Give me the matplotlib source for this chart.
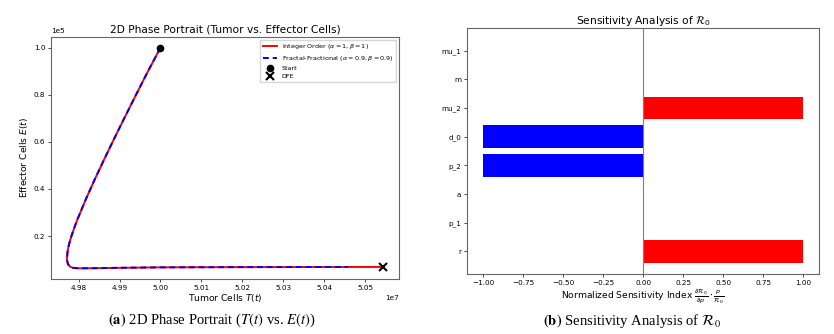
import matplotlib.pyplot as plt
import numpy as np

# phase portrait values (T in units of 1e7, E in units of 1e5)
int_T = [5.0000, 4.99694, 4.99341, 4.99096, 4.98855, 4.98619, 4.98389, 4.98170, 4.97966, 4.97875,
         4.97794, 4.97745, 4.97729, 4.97712, 4.9774, 4.9779, 4.9786, 4.9795, 4.9810, 4.9840,
         4.9900, 5.0000, 5.0200, 5.0400, 5.0545]
int_E = [1.000, 0.900, 0.779, 0.694, 0.609, 0.524, 0.439, 0.354, 0.269, 0.2265,
         0.184, 0.150, 0.134, 0.100, 0.080, 0.070, 0.065, 0.0635, 0.0630, 0.0635,
         0.0650, 0.0670, 0.0680, 0.0685, 0.0688]
frac_T = [5.0000, 4.99694, 4.99341, 4.99096, 4.98855, 4.98619, 4.98389, 4.98170, 4.97966, 4.97875,
          4.97794, 4.97745, 4.97729, 4.97712, 4.9774, 4.9779, 4.9786, 4.9795, 4.9810, 4.9840,
          4.9900, 5.0000, 5.0200, 5.0400, 5.0458]
frac_E = [1.000, 0.900, 0.779, 0.694, 0.609, 0.524, 0.439, 0.354, 0.269, 0.2265,
          0.184, 0.150, 0.134, 0.100, 0.080, 0.070, 0.065, 0.0635, 0.0630, 0.0635,
          0.0650, 0.0670, 0.0680, 0.0685, 0.0687]
start_pt = (5.0000, 1.000)
dfe_pt = (5.0545, 0.0688)

# sensitivity indices
params = ["r", "p_1", "a", "p_2", "d_0", "mu_2", "m", "mu_1"]
sens = [1.0, 0.0, 0.0, -1.0, -1.0, 1.0, 0.0, 0.0]

TS, ES = 1e7, 1e5

fig = plt.figure(figsize=(8.34, 3.34), dpi=100)

# ---- (a) phase portrait
ax1 = fig.add_axes([0.0612, 0.1637, 0.4176, 0.7265])
ax1.plot(np.array(int_T) * TS, np.array(int_E) * ES, color="red", lw=1.4,
         label=r"Integer Order ($\alpha=1, \beta=1$)")
ax1.plot(np.array(frac_T) * TS, np.array(frac_E) * ES, color="blue", lw=1.4, ls="--",
         dashes=(3, 2), label=r"Fractal-Fractional ($\alpha=0.9, \beta=0.9$)")
ax1.plot(start_pt[0] * TS, start_pt[1] * ES, "o", color="black", ms=4.5, label="Start")
ax1.plot(dfe_pt[0] * TS, dfe_pt[1] * ES, "x", color="black", ms=5.5, mew=1.5, label="DFE")
ax1.ticklabel_format(axis="both", style="sci", scilimits=(0, 0), useOffset=False)
ax1.set_title("2D Phase Portrait (Tumor vs. Effector Cells)", fontsize=7.7, pad=3)
ax1.set_xlabel(r"Tumor Cells $T(t)$", fontsize=6.6, labelpad=1)
ax1.set_ylabel(r"Effector Cells $E(t)$", fontsize=6.6, labelpad=3)
ax1.tick_params(labelsize=5.2, length=2.5, width=0.5, pad=1.5)
ax1.xaxis.get_offset_text().set_fontsize(5.2)
ax1.yaxis.get_offset_text().set_fontsize(5.2)
ax1.legend(loc="upper right", fontsize=4.6, borderaxespad=0.5, handlelength=2.2,
           labelspacing=0.4, framealpha=0.8, edgecolor="#cccccc", fancybox=False)

# ---- (b) sensitivity
ax2 = fig.add_axes([0.5600, 0.1796, 0.4224, 0.7365])
colors = ["red" if v > 0 else "blue" for v in sens]
ax2.barh(params, sens, color=colors, height=0.8)
ax2.axvline(0, color="gray", lw=0.8)
ax2.set_xticks([-1.0, -0.75, -0.5, -0.25, 0.0, 0.25, 0.5, 0.75, 1.0])
ax2.set_title(r"Sensitivity Analysis of $\mathcal{R}_0$", fontsize=7.7, pad=3)
ax2.set_xlabel(r"Normalized Sensitivity Index $\frac{\partial \mathcal{R}_0}{\partial p} \cdot \frac{p}{\mathcal{R}_0}$",
               fontsize=6.6, labelpad=1)
ax2.tick_params(labelsize=5.2, length=2.5, width=0.5, pad=1.5)

for ax in (ax1, ax2):
    for s in ax.spines.values():
        s.set_color("#666666")
        s.set_linewidth(0.8)

# captions
fig.text(0.254, 0.04, r"$\mathbf{(a)}$ 2D Phase Portrait ($T(t)$ vs. $E(t)$)",
         ha="center", va="center", fontsize=10.5, family="Liberation Serif", math_fontfamily="stix")
fig.text(0.758, 0.04, r"$\mathbf{(b)}$ Sensitivity Analysis of $\mathcal{R}_0$",
         ha="center", va="center", fontsize=10.5, family="Liberation Serif", math_fontfamily="stix")

fig.savefig("out.png", dpi=100)
